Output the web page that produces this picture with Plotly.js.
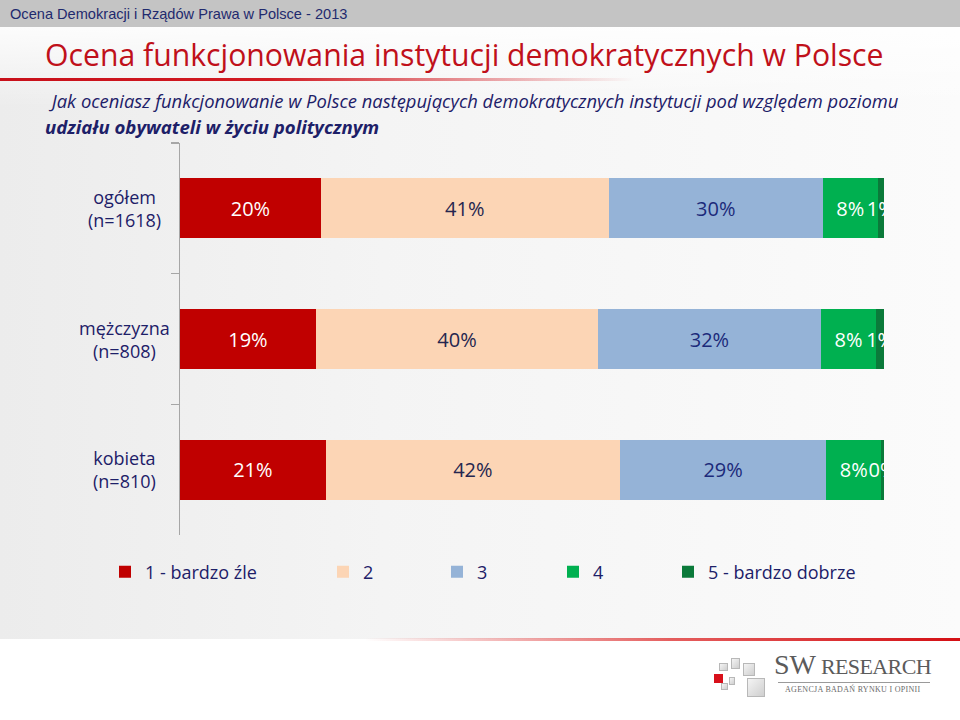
<!DOCTYPE html>
<html>
<head>
<meta charset="utf-8">
<script src="https://cdn.plot.ly/plotly-3.0.1.min.js"></script>
<style>
  html, body { margin: 0; padding: 0; }
  #wrap { position: relative; width: 960px; height: 720px; overflow: hidden; background: #ffffff; }
  .abs { position: absolute; }
  #chart { position: absolute; left: 0; top: 0; width: 960px; height: 720px; }
  .sq { position: absolute; background: linear-gradient(135deg, #f4f4f4, #cfcfcf); border: 1px solid #b8b8b8; box-sizing: border-box; }
</style>
</head>
<body>
<div id="wrap">
  <div class="abs" style="left:0;top:0;width:960px;height:27px;background:#c4c4c4;"></div>
  <div class="abs" style="left:0;top:27px;width:960px;height:612px;background:linear-gradient(to right,#ececec 0%,#f4f4f4 40%,#fbfbfb 100%);"></div>
  <div class="abs" style="left:0;top:27px;width:960px;height:80px;background:linear-gradient(to bottom,rgba(255,255,255,0.85),rgba(255,255,255,0));"></div>
  <div class="abs" style="left:0;top:78px;width:960px;height:3px;background:linear-gradient(to right,#c8101a 0%,#d21a22 28%,rgba(215,40,45,0) 66%);"></div>
  <div class="abs" style="left:0;top:638px;width:960px;height:3px;background:linear-gradient(to right,rgba(220,30,30,0) 38%,rgba(220,40,40,0.75) 70%,#d40f14 100%);"></div>
  <div id="chart"></div>
  <!-- logo -->
  <div class="sq" style="left:719px;top:663px;width:9px;height:8px;"></div>
  <div class="sq" style="left:731px;top:658px;width:9px;height:11px;"></div>
  <div class="sq" style="left:743px;top:663px;width:12px;height:13px;"></div>
  <div class="abs" style="left:714px;top:674px;width:9px;height:9px;background:#d8101a;"></div>
  <div class="sq" style="left:729px;top:677px;width:6px;height:8px;"></div>
  <div class="sq" style="left:721px;top:683px;width:7px;height:7px;"></div>
  <div class="sq" style="left:747px;top:678px;width:18px;height:19px;"></div>
  <div class="abs" style="left:774px;top:651px;font-family:'Liberation Serif',serif;color:#5b5b5b;white-space:nowrap;line-height:1;">
    <span style="font-size:28px;">SW</span><span style="font-size:22px;letter-spacing:-0.6px;">&nbsp;RESEARCH</span>
  </div>
  <div class="abs" style="left:778px;top:682px;width:152px;height:1px;background:#9a9a9a;"></div>
  <div class="abs" style="left:785px;top:685px;font-family:'Liberation Serif',serif;font-size:8px;color:#6a6a6a;white-space:nowrap;letter-spacing:0.3px;">AGENCJA BADAŃ RYNKU I OPINII</div>
</div>
<script>
// ---- data ----
const groups = ['ogółem', 'mężczyzna', 'kobieta'];
const sampleSizes = [1618, 808, 810];
const seriesNames = ['1 - bardzo źle', '2', '3', '4', '5 - bardzo dobrze'];
const rating1 = [20.0, 19.3, 20.7];
const rating2 = [40.9, 40.1, 41.8];
const rating3 = [30.4, 31.6, 29.3];
const rating4 = [7.8, 7.9, 7.8];
const rating5 = [0.9, 1.1, 0.4];

const headerText = 'Ocena Demokracji i Rządów Prawa w Polsce - 2013';
const titleText = 'Ocena funkcjonowania instytucji demokratycznych w Polsce';
const subtitle1 = ' Jak oceniasz funkcjonowanie w Polsce następujących demokratycznych instytucji pod względem poziomu';
const subtitle2 = 'udziału obywateli w życiu politycznym';

// ---- styling ----
const colors = ['#c00000', '#fcd5b5', '#95b3d7', '#00b050', '#0b7a3a'];
const textColors = ['#ffffff', '#25264f', '#1c2a7a', '#ffffff', '#ffffff'];
const navy = '#1d2068';
const FONT = "'Open Sans', 'Noto Sans', sans-serif";

// plot area in pixels
const L = 180, R = 884, T = 143, B = 535, W = 960, H = 720;
const px = x => (x - L) / (R - L);
const py = y => (B - y) / (B - T);

const categories = groups.map((g, i) => g + '<br>(n=' + sampleSizes[i] + ')');
const series = [rating1, rating2, rating3, rating4, rating5];
const legendIds = ['legend', 'legend2', 'legend3', 'legend4', 'legend5'];
const legendLeft = [105, 323, 437, 553, 668];

const data = series.map((vals, k) => ({
  type: 'bar',
  orientation: 'h',
  name: seriesNames[k],
  x: vals,
  y: categories,
  legend: legendIds[k],
  marker: { color: colors[k], line: { width: 0 } },
  texttemplate: '%{x:.0f}%',
  textposition: 'inside',
  insidetextanchor: 'middle',
  textangle: 0,
  constraintext: 'none',
  cliponaxis: true,
  textfont: { family: FONT, size: 20, color: textColors[k] },
  hoverinfo: 'skip'
}));

const annotations = [
  { text: headerText, xref: 'paper', yref: 'paper', x: px(8), y: py(14), xanchor: 'left', yanchor: 'middle',
    showarrow: false, font: { family: "'Liberation Sans', Arial, sans-serif", size: 14.6, color: '#1f2a6e' } },
  { text: '<i>' + subtitle1 + '</i>', xref: 'paper', yref: 'paper', x: px(45), y: py(101), xanchor: 'left', yanchor: 'middle',
    showarrow: false, font: { family: FONT, size: 18.4, color: navy } },
  { text: '<b><i>' + subtitle2 + '</i></b>', xref: 'paper', yref: 'paper', x: px(43), y: py(126), xanchor: 'left', yanchor: 'middle',
    showarrow: false, font: { family: FONT, size: 18.6, color: navy } }
];
categories.forEach(c => annotations.push({
  text: c, xref: 'paper', yref: 'y', x: px(124), y: c, xanchor: 'center', yanchor: 'middle', align: 'center',
  showarrow: false, font: { family: FONT, size: 18, color: navy }
}));

const layout = {
  width: W, height: H,
  margin: { l: L, r: W - R, t: T, b: H - B, pad: 0 },
  paper_bgcolor: 'rgba(0,0,0,0)',
  plot_bgcolor: 'rgba(0,0,0,0)',
  barmode: 'stack',
  bargap: 0.54,
  title: { text: titleText, xref: 'container', yref: 'container', x: 45 / W, xanchor: 'left', y: 1 - 55 / H, yanchor: 'middle',
    font: { family: FONT, size: 30.2, color: '#c0101a' } },
  xaxis: { range: [0, 100], visible: false, fixedrange: true },
  yaxis: { type: 'category', categoryorder: 'array', categoryarray: categories, range: [2.5, -0.5],
    showline: true, linecolor: '#a6a6a6', linewidth: 1.5, ticks: 'outside', ticklen: 8, tickwidth: 1.5, tickcolor: '#a6a6a6',
    tickson: 'boundaries', showticklabels: false, showgrid: false, zeroline: false, fixedrange: true },
  annotations: annotations,
  showlegend: true
};
legendIds.forEach((id, k) => {
  layout[id] = { x: px(legendLeft[k]), y: py(572), xanchor: 'left', yanchor: 'middle', orientation: 'h',
    bgcolor: 'rgba(0,0,0,0)', borderwidth: 0, font: { family: FONT, size: 18, color: navy } };
});

Plotly.newPlot('chart', data, layout, { displayModeBar: false, staticPlot: true });
</script>
</body>
</html>
